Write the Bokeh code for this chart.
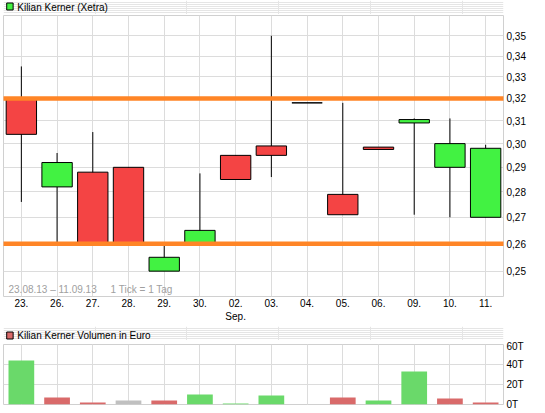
from bokeh.plotting import figure
from bokeh.models import (Range1d, FixedTicker, CustomJSTickFormatter, BoxAnnotation,
                          Label, ColumnDataSource, Grid)
from bokeh.core.properties import value
from bokeh.layouts import column
from bokeh.embed import file_html
from bokeh.resources import INLINE

# ---------------- data ----------------
dates = ["23.", "26.", "27.", "28.", "29.", "30.", "02.", "03.", "04.", "05.", "06.", "09.", "10.", "11."]
month_marks = {6: "Sep."}
open_ = [0.320, 0.282, 0.288, 0.290, 0.250, 0.260, 0.295, 0.299, 0.318, 0.279, 0.2985, 0.309, 0.290, 0.270]
close = [0.304, 0.292, 0.260, 0.260, 0.255, 0.265, 0.285, 0.295, 0.318, 0.271, 0.2975, 0.3105, 0.300, 0.298]
high = [0.335, 0.296, 0.305, 0.290, 0.260, 0.2875, 0.295, 0.350, 0.318, 0.318, 0.2985, 0.311, 0.311, 0.2995]
low = [0.276, 0.260, 0.260, 0.260, 0.250, 0.260, 0.285, 0.286, 0.318, 0.271, 0.2975, 0.271, 0.270, 0.270]
levels = [0.32, 0.26]
price_ticks = [0.25, 0.26, 0.27, 0.28, 0.29, 0.30, 0.31, 0.32, 0.33, 0.34, 0.35]

volume = [44000, 7000, 2000, 4000, 4000, 10000, 1000, 9000, 0, 7000, 4000, 33000, 6000, 2000]
vol_dir = ["up", "down", "down", "flat", "down", "up", "up", "up", "flat", "down", "up", "up", "down", "down"]
vol_ticks = [0, 20000, 40000, 60000]

title_price = "Kilian Kerner (Xetra)"
title_volume = "Kilian Kerner Volumen in Euro"
note = "23.08.13 \u2013 11.09.13\u00a0\u00a0\u00a0\u00a0 1 Tick = 1 Tag"

# ---------------- styles ----------------
FONT = "Liberation Sans"
RED = "#F44444"
GREEN = "#42F242"
ORANGE = "#FF8526"
GRID = "#DCDCDC"
OUTLINE = "#D0D0D0"
VCOL = {"up": "#6AD96A", "down": "#D96A6A", "flat": "#C0C0C0"}
LEGEND_RED = "#D96A6A"

x_idx = list(range(len(dates)))
labels = {i: (d + ("\n" + month_marks[i] if i in month_marks else "")) for i, d in enumerate(dates)}

W = 545
L, R = 3, 42
HH1, HH2 = 14, 14                 # header strip heights
H1, T1, B1 = 312, 1, 30           # price chart
H2, T2, B2 = 73, 4, 9             # volume chart


def style_axis(ax, standoff):
    ax.axis_line_color = None
    ax.major_tick_line_color = None
    ax.minor_tick_line_color = None
    ax.major_tick_out = 0
    ax.major_tick_in = 0
    ax.minor_tick_out = 0
    ax.minor_tick_in = 0
    ax.major_label_text_font = FONT
    ax.major_label_text_font_size = "10px"
    ax.major_label_text_color = "black"
    ax.major_label_standoff = standoff


def header(text, color, h, sq_top, text_y):
    hp = figure(width=W, height=h, x_range=Range1d(0, W), y_range=Range1d(h, 0),
                x_axis_location=None, y_axis_location=None, toolbar_location=None,
                output_backend="svg", min_border=0)
    hp.outline_line_color = None
    hp.background_fill_color = "white"
    hp.border_fill_color = "white"
    hp.quad(left=[3.5], right=[10.5], top=[sq_top], bottom=[sq_top + 7],
            fill_color=color, line_color="black", line_width=1)
    hp.text(x=[15], y=[text_y], text=[text], text_font=value(FONT), text_font_size="10px",
            text_baseline="middle", text_align="left", text_color="black")
    return hp


# ---------------- price chart ----------------
p1 = figure(width=W, height=H1, x_range=Range1d(-0.5, 13.5), y_range=Range1d(0.2411, 0.3603),
            y_axis_type="log", y_axis_location="right", output_backend="svg", toolbar_location=None,
            min_border_left=L, min_border_right=R, min_border_top=T1, min_border_bottom=B1)
p1.background_fill_color = "white"
p1.border_fill_color = "white"
p1.outline_line_color = OUTLINE

p1.xaxis.ticker = FixedTicker(ticks=x_idx)
p1.xaxis.major_label_overrides = labels
p1.yaxis.ticker = FixedTicker(ticks=price_ticks)
p1.yaxis.formatter = CustomJSTickFormatter(code="return tick.toFixed(2).replace('.', ',');")
style_axis(p1.xaxis[0], 1)
style_axis(p1.yaxis[0], 3)
p1.grid.grid_line_color = GRID
p1.grid.grid_line_width = 1

body_top = [max(o, c) for o, c in zip(open_, close)]
body_bot = [min(o, c) for o, c in zip(open_, close)]
body_col = [GREEN if c > o else RED for o, c in zip(open_, close)]
src = ColumnDataSource(dict(x=x_idx, high=high, low=low, top=body_top, bottom=body_bot, color=body_col))

p1.segment(x0="x", y0="low", x1="x", y1="high", source=src, line_color="black", line_width=1)
p1.vbar(x="x", top="top", bottom="bottom", width=0.85, source=src,
        fill_color="color", line_color="black", line_width=1)

for lv in levels:
    p1.add_layout(BoxAnnotation(bottom=lv / 1.0033, top=lv * 1.0033, left=-10, right=700,
                                left_units="screen", right_units="screen",
                                fill_color=ORANGE, fill_alpha=1.0, line_color=None, level="overlay"))

p1.add_layout(Label(x=5, y=2, x_units="screen", y_units="screen", text=note,
                    text_font=FONT, text_font_size="10px", text_color="#A0A0A0",
                    text_baseline="bottom", text_align="left"))

# ---------------- volume chart ----------------
p2 = figure(width=W, height=H2, x_range=p1.x_range, y_range=Range1d(0, 60000),
            x_axis_location=None, y_axis_location="right", output_backend="svg", toolbar_location=None,
            min_border_left=L, min_border_right=R, min_border_top=T2, min_border_bottom=B2)
p2.background_fill_color = "white"
p2.border_fill_color = "white"
p2.outline_line_color = OUTLINE
p2.yaxis.ticker = FixedTicker(ticks=vol_ticks)
p2.yaxis.formatter = CustomJSTickFormatter(code="return (tick/1000).toFixed(0) + 'T';")
style_axis(p2.yaxis[0], 3)
p2.ygrid.grid_line_color = GRID
p2.add_layout(Grid(dimension=0, ticker=FixedTicker(ticks=x_idx), grid_line_color=GRID))

vsrc = ColumnDataSource(dict(x=x_idx, v=volume, color=[VCOL[d] for d in vol_dir]))
p2.vbar(x="x", top="v", bottom=0, width=0.72, source=vsrc, fill_color="color", line_color=None)

h1 = header(title_price, GREEN, HH1, 2.5, 6.5)
h2 = header(title_volume, LEGEND_RED, HH2, 5.5, 9)

layout = column(h1, p1, h2, p2, spacing=0)
open("out.html", "w").write(file_html(layout, INLINE))
